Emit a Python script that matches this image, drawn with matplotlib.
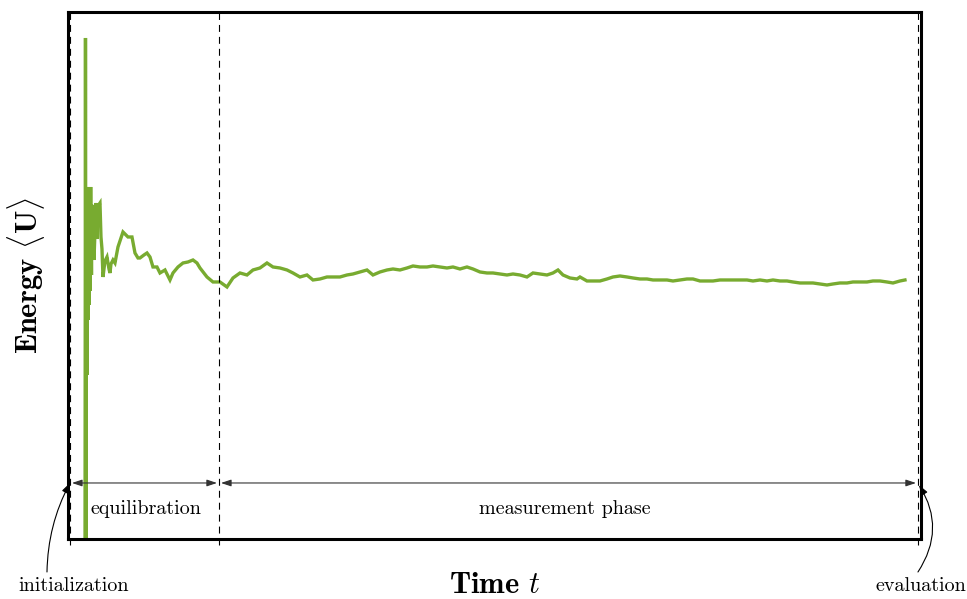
import matplotlib
matplotlib.use("Agg")
import matplotlib.pyplot as plt
from matplotlib.patches import FancyArrowPatch

plt.rcParams["mathtext.fontset"] = "cm"
plt.rcParams["font.family"] = "cmr10"
plt.rcParams["axes.formatter.use_mathtext"] = True
plt.rcParams["lines.scale_dashes"] = False

# running average of the energy (arbitrary units)
time = [
    15.0, 15.5, 16.0, 16.5, 17.0, 17.5, 18.0, 18.5, 19.0, 19.5,
    20.0, 20.7, 21.5, 22.0, 23.0, 24.0, 25.0, 26.0, 27.0, 28.0,
    30.0, 31.0, 32.0, 33.0, 35.0, 37.0, 39.0, 40.0, 41.0, 43.0,
    45.0, 48.0, 50.0, 53.0, 55.0, 58.0, 62.0, 65.0, 68.0, 70.0,
    74.0, 77.0, 80.0, 83.0, 87.0, 90.0, 95.0, 100.0, 103.0, 108.0,
    113.0, 118.0, 123.0, 127.0, 130.0, 137.0, 143.0, 150.0, 157.0, 163.0,
    170.0, 177.0, 183.0, 190.0, 197.0, 203.0, 210.0, 217.0, 223.0, 230.0,
    237.0, 243.0, 250.0, 257.0, 263.0, 270.0, 277.0, 283.0, 290.0, 297.0,
    303.0, 310.0, 317.0, 323.0, 330.0, 337.0, 343.0, 350.0, 357.0, 363.0,
    370.0, 377.0, 383.0, 390.0, 397.0, 403.0, 410.0, 417.0, 423.0, 430.0,
    437.0, 443.0, 450.0, 457.0, 463.0, 470.0, 477.0, 483.0, 488.0, 493.0,
    500.0, 507.0, 510.0, 517.0, 523.0, 530.0, 537.0, 543.0, 550.0, 557.0,
    563.0, 570.0, 577.0, 583.0, 590.0, 597.0, 603.0, 610.0, 617.0, 623.0,
    630.0, 637.0, 643.0, 650.0, 657.0, 663.0, 670.0, 677.0, 683.0, 690.0,
    697.0, 703.0, 710.0, 717.0, 723.0, 730.0, 737.0, 743.0, 750.0, 757.0,
    763.0, 770.0, 777.0, 783.0, 790.0, 797.0, 803.0, 810.0, 817.0, 823.0,
    830.0, 835.0,
]
energy = [
    -60, 501, -40, 289, 164, 352, 219, 339, 234, 319,
    248, 352, 264, 334, 329, 279, 309, 336, 300, 333,
    336, 302, 290, 262, 278, 282, 270, 266, 275, 279,
    276, 292, 298, 307, 305, 302, 302, 286, 281, 281,
    284, 286, 282, 272, 272, 266, 269, 259, 266, 272,
    276, 277, 279, 276, 271, 262, 257, 257, 252, 261,
    266, 264, 269, 271, 276, 272, 271, 269, 266, 262,
    264, 259, 260, 262, 262, 262, 264, 265, 267, 269,
    264, 267, 269, 270, 269, 271, 273, 272, 272, 273,
    272, 271, 272, 270, 272, 270, 267, 266, 266, 265,
    264, 265, 264, 262, 266, 265, 264, 266, 269, 264,
    261, 260, 262, 258, 258, 258, 260, 262, 263, 262,
    261, 260, 260, 259, 259, 259, 258, 259, 260, 260,
    258, 258, 258, 259, 259, 259, 259, 259, 258, 259,
    258, 259, 258, 258, 257, 256, 256, 256, 255, 254,
    255, 256, 256, 257, 257, 257, 258, 258, 257, 256,
    258, 259,
]

t_init = 0
t_equil = 149
t_eval = 848
phase_labels = ["equilibration", "measurement phase"]
label_pos = [76, 495]

fig = plt.figure(figsize=(9.67, 5.99), dpi=100)
ax = fig.add_axes([0.0703, 0.1002, 0.8821, 0.8798])
ax.set_xlim(-2, 851)
ax.set_ylim(0, 527)
ax.set_xticks([])
ax.set_yticks([])
for s in ax.spines.values():
    s.set_linewidth(2.2)

ax.plot(time, energy, color="#78ab30", lw=2.4, solid_joinstyle="miter", zorder=2)

# phase boundaries, running a bit below the frame
for t in (t_init, t_equil, t_eval):
    ax.plot([t, t], [-6, 527], color="black", lw=0.8, dashes=(5, 3.6),
             clip_on=False, zorder=3)

y_arr = 56
spans = [(t_init + 2, t_equil - 2), (t_equil + 2, t_eval - 2)]
for (a, b), lab, xp in zip(spans, phase_labels, label_pos):
    ax.add_patch(FancyArrowPatch((a, y_arr), (b, y_arr),
                                 arrowstyle="<|-|>,head_length=0.6,head_width=0.2",
                                 mutation_scale=10, lw=0.8, color="#333333",
                                 shrinkA=0, shrinkB=0, zorder=4))
    ax.text(xp, 30, lab, ha="center", va="center", fontsize=14.5)

# initialization / evaluation markers below the frame
ax.text(4, -47, "initialization", ha="center", va="center", fontsize=14.5)
ax.text(851, -47, "evaluation", ha="center", va="center", fontsize=14.5)
ax.add_patch(FancyArrowPatch((-23, -33), (t_init, y_arr),
                             connectionstyle="arc3,rad=-0.12",
                             arrowstyle="-|>,head_length=0.6,head_width=0.2",
                             mutation_scale=10, lw=0.8, color="black",
                             shrinkA=0, shrinkB=0, clip_on=False, zorder=5))
ax.add_patch(FancyArrowPatch((848, -33), (t_eval + 1, y_arr - 2),
                             connectionstyle="arc3,rad=0.32",
                             arrowstyle="-|>,head_length=0.6,head_width=0.2",
                             mutation_scale=10, lw=0.8, color="black",
                             shrinkA=0, shrinkB=0, clip_on=False, zorder=5))

ax.set_xlabel(r"Time $t$", fontsize=22, family="cmb10", labelpad=24)
ax.set_ylabel(r"Energy $\langle\mathbf{U}\rangle$", fontsize=22, family="cmb10", labelpad=15)

fig.savefig("out.png", dpi=100)
